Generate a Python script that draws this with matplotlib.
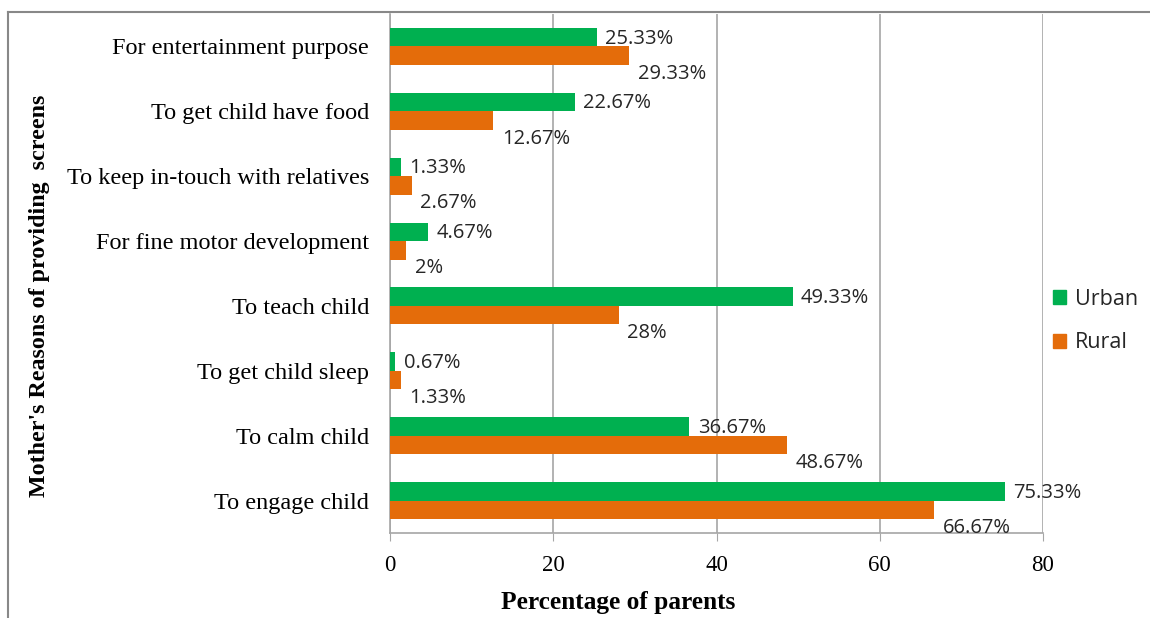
import matplotlib
matplotlib.use("Agg")
import matplotlib.pyplot as plt
from matplotlib.lines import Line2D
import numpy as np

categories = ["To engage child", "To calm child", "To get child sleep", "To teach child",
              "For fine motor development", "To keep in-touch with relatives",
              "To get child have food", "For entertainment purpose"]
urban = [75.33, 36.67, 0.67, 49.33, 4.67, 1.33, 22.67, 25.33]
rural = [66.67, 48.67, 1.33, 28, 2, 2.67, 12.67, 29.33]
urban_labels = ["75.33%", "36.67%", "0.67%", "49.33%", "4.67%", "1.33%", "22.67%", "25.33%"]
rural_labels = ["66.67%", "48.67%", "1.33%", "28%", "2%", "2.67%", "12.67%", "29.33%"]
xticks = [0, 20, 40, 60, 80]

GREEN = "#00B050"
ORANGE = "#E46C0A"
GRID = "#a6a6a6"

fig = plt.figure(figsize=(11.5, 6.18), dpi=100)
ax = fig.add_axes([390/1150, 1-533/618, (1043-390)/1150, (533-14)/618])

y = np.arange(len(categories))
h = 0.285
ax.barh(y + h/2, urban, height=h, color=GREEN, label="Urban", zorder=3)
ax.barh(y - h/2, rural, height=h, color=ORANGE, label="Rural", zorder=3)

lab_font = dict(family="Open Sans", fontsize=14.5, color="#262626")
for yi, v, t in zip(y, urban, urban_labels):
    ax.annotate(t, (v, yi + h/2), xytext=(6, -1), textcoords="offset points",
                va="center", ha="left", **lab_font)
for yi, v, t in zip(y, rural, rural_labels):
    ax.annotate(t, (v, yi - h/2), xytext=(6, -13), textcoords="offset points",
                va="center", ha="left", **lab_font)

ax.set_xlim(0, 80)
ax.set_ylim(-0.5, len(categories) - 0.5)
ax.set_xticks(xticks)
ax.set_xticklabels([str(t) for t in xticks], family="Liberation Serif", fontsize=16.5)
ax.set_yticks(y)
ax.set_yticklabels(categories, family="Liberation Serif", fontsize=17.5)
ax.tick_params(axis="y", length=0, pad=15)
ax.tick_params(axis="x", length=6, color=GRID, pad=10)
ax.grid(axis="x", color=GRID, linewidth=1.2, zorder=0)
for s in ["top", "right"]:
    ax.spines[s].set_visible(False)
for s in ["left", "bottom"]:
    ax.spines[s].set_color(GRID)
    ax.spines[s].set_linewidth(1.2)

fig.text(618/1150, 1-602/618, "Percentage of parents", family="Liberation Serif", fontsize=18.3,
         fontweight="bold", ha="center", va="center")
fig.text(40/1150, 1-296/618, "Mother's Reasons of providing  screens", rotation=90,
         family="Liberation Serif", fontsize=17.3, fontweight="bold", ha="center", va="center")

handles = [plt.Rectangle((0, 0), 1, 1, color=GREEN), plt.Rectangle((0, 0), 1, 1, color=ORANGE)]
fig.legend(handles, ["Urban", "Rural"], loc="center left", bbox_to_anchor=(1034/1150, 1-321/618),
           frameon=False, prop={"family": "Open Sans", "size": 15.5}, handlelength=0.6,
           handleheight=0.6, labelspacing=1.05, handletextpad=0.4, labelcolor="#262626")

# figure border (top and left)
fig.add_artist(Line2D([8/1150, 1], [1-12/618, 1-12/618], color="#888888", linewidth=1.5,
                      transform=fig.transFigure))
fig.add_artist(Line2D([8/1150, 8/1150], [0, 1-12/618], color="#888888", linewidth=1.5,
                      transform=fig.transFigure))

fig.savefig("out.png", dpi=100)
